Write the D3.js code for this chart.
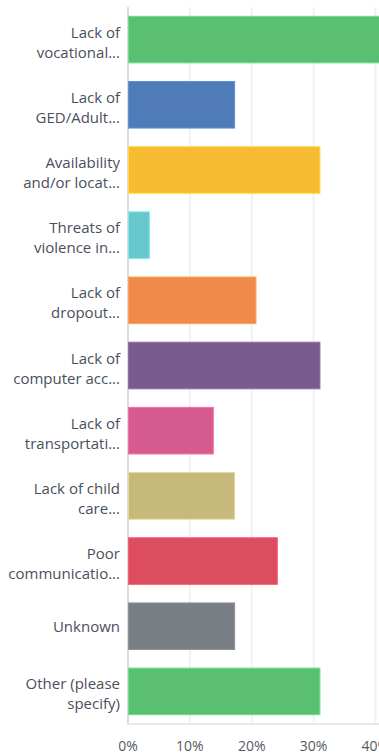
<!DOCTYPE html>
<html>
<head>
<meta charset="utf-8">
<script src="https://cdn.jsdelivr.net/npm/d3@7"></script>
<style>
  html, body { margin: 0; padding: 0; background: #fff; overflow: hidden; }
  svg { display: block; }
  text { font-family: "Open Sans", "Noto Sans", sans-serif; }
</style>
</head>
<body>
<svg id="chart" width="379" height="755"></svg>
<script>
// Answer options (wrapped label lines) and share of respondents (%)
const categories = [
  ["Lack of", "vocational..."],
  ["Lack of", "GED/Adult..."],
  ["Availability", "and/or locat..."],
  ["Threats of", "violence in..."],
  ["Lack of", "dropout..."],
  ["Lack of", "computer acc..."],
  ["Lack of", "transportati..."],
  ["Lack of child", "care..."],
  ["Poor", "communicatio..."],
  ["Unknown"],
  ["Other (please", "specify)"]
];
const values = [41.38, 17.24, 31.03, 3.45, 20.69, 31.03, 13.79, 17.24, 24.14, 17.24, 31.03];
const colors = ["#5bbf72", "#4f7cb8", "#f6bb33", "#67c8cc", "#f0894c", "#7b5b8d",
                "#d55b8e", "#c7b87b", "#db4d5f", "#787e84", "#5bbf72"];
const tickValues = [0, 10, 20, 30, 40, 50];

const svg = d3.select("#chart");
const W = 379, H = 755;
const plot = { left: 128, top: 7, bottom: 724 };
const pxPer10 = 61.85;

const keys = categories.map((c, i) => i);
const x = d3.scaleLinear()
  .domain([0, 50])
  .range([plot.left, plot.left + pxPer10 * 5]);
const y = d3.scaleBand()
  .domain(keys)
  .range([plot.top, plot.bottom])
  .paddingInner(0.27)
  .paddingOuter(0.135);

// vertical gridlines
svg.append("g")
  .selectAll("line")
  .data(tickValues.filter(t => t > 0))
  .join("line")
  .attr("x1", d => x(d)).attr("x2", d => x(d))
  .attr("y1", plot.top).attr("y2", plot.bottom)
  .attr("stroke", "#f1f1f1")
  .attr("stroke-width", 2);

// baseline at 0% and bottom border
svg.append("line")
  .attr("x1", x(0)).attr("x2", x(0))
  .attr("y1", plot.top).attr("y2", plot.bottom)
  .attr("stroke", "#dcdcdc").attr("stroke-width", 2);
svg.append("line")
  .attr("x1", x(0) - 1).attr("x2", W)
  .attr("y1", plot.bottom).attr("y2", plot.bottom)
  .attr("stroke", "#e2e2e2").attr("stroke-width", 1.5);

// bars
svg.append("g")
  .selectAll("rect")
  .data(keys)
  .join("rect")
  .attr("x", x(0) + 0.5)
  .attr("y", i => y(i) + 0.5)
  .attr("width", i => x(values[i]) - x(0) - 0.5)
  .attr("height", y.bandwidth() - 1)
  .attr("fill", i => colors[i])
  .attr("stroke", i => d3.color(colors[i]).brighter(0.45))
  .attr("stroke-width", 1);

// category labels
const labels = svg.append("g")
  .selectAll("text")
  .data(keys)
  .join("text")
  .attr("text-anchor", "end")
  .attr("fill", "#4a4f5c")
  .style("font-size", "15px");
labels.each(function (i) {
  const lines = categories[i];
  const cy = y(i) + y.bandwidth() / 2;
  const t = d3.select(this);
  if (lines.length === 1) {
    t.append("tspan").attr("x", 120).attr("y", cy + 6).text(lines[0]);
  } else {
    t.append("tspan").attr("x", 120).attr("y", cy - 2).text(lines[0]);
    t.append("tspan").attr("x", 120).attr("y", cy + 18).text(lines[1]);
  }
});

// x axis tick labels
svg.append("g")
  .selectAll("text")
  .data(tickValues)
  .join("text")
  .attr("x", d => x(d))
  .attr("y", 751)
  .attr("text-anchor", "middle")
  .attr("fill", "#555a64")
  .style("font-size", "14px")
  .text(d => d + "%");
</script>
</body>
</html>
